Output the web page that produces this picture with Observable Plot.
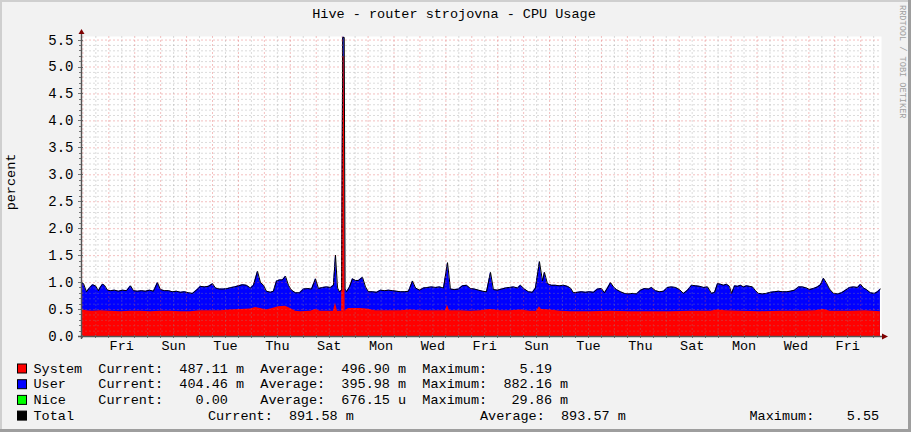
<!DOCTYPE html>
<html><head><meta charset="utf-8">
<script src="https://cdn.jsdelivr.net/npm/d3@7"></script>
<script src="https://cdn.jsdelivr.net/npm/@observablehq/plot@0.6"></script>
<style>
html,body{margin:0;padding:0;background:#F2F2F2;}
#chart{position:relative;width:911px;height:432px;overflow:hidden;}
#chart svg text{font-family:"Liberation Mono",monospace;}
</style></head><body><div id="chart"></div>
<script>
// time origin of the graph (UTC) and span in hours
const T0 = Date.UTC(2014, 0, 1, 22, 44);
const spanHours = 740.5;

// [hours from start, total CPU %]
const totalSeries = [[0,1.00],[1.9,0.98],[4.6,0.83],[7.4,0.90],[10.2,0.96],[13.0,0.94],[15.7,0.85],[17.6,0.92],[19.4,0.97],[21.3,0.95],[24.1,0.86],[26.8,0.85],[30.5,0.86],[34.2,0.84],[37.9,0.86],[41.7,0.85],[45.4,0.94],[48.1,0.85],[51.8,0.84],[55.5,0.85],[59.2,0.84],[62.9,0.86],[66.6,0.84],[70.3,1.00],[73.1,0.87],[76.8,0.85],[80.5,0.85],[84.2,0.83],[87.9,0.84],[91.6,0.82],[95.3,0.83],[99.1,0.81],[102.7,0.80],[106.4,0.86],[110.1,0.93],[113.8,0.92],[117.5,0.93],[121.3,0.98],[124.0,0.90],[127.7,0.88],[131.4,0.88],[135.1,0.89],[138.8,0.91],[141.6,0.92],[145.3,0.94],[149.0,0.96],[152.7,0.95],[156.4,0.90],[159.2,0.95],[162.9,1.21],[165.7,1.00],[168.5,0.95],[171.2,0.84],[174.9,0.82],[177.7,0.84],[180.5,1.03],[183.3,1.05],[186.0,1.05],[188.8,1.12],[191.6,0.95],[194.4,0.86],[198.1,0.81],[201.8,0.81],[205.5,0.88],[209.2,0.89],[212.9,0.88],[216.6,1.07],[219.4,0.89],[223.1,0.91],[226.8,0.92],[230.5,0.91],[233.2,0.95],[235.1,1.51],[237.0,0.90],[238.8,0.83],[240.8,0.86],[241.8,5.55],[243.2,5.55],[244.0,0.88],[245.3,0.83],[248.1,0.92],[250.8,1.07],[253.6,1.04],[256.4,1.04],[260.1,1.10],[262.9,0.92],[265.6,0.83],[269.3,0.83],[273.1,0.82],[276.8,0.86],[280.5,0.85],[284.2,0.86],[287.9,0.85],[291.6,0.84],[295.3,0.83],[299.0,0.83],[302.7,0.84],[306.4,1.03],[309.2,0.90],[312.9,0.86],[316.6,0.90],[320.3,0.91],[324.0,0.92],[327.7,0.91],[331.4,0.92],[335.1,0.90],[338.8,1.37],[341.5,0.88],[345.2,0.87],[348.9,0.88],[352.6,0.94],[356.4,0.95],[360.1,0.89],[363.8,0.88],[367.5,0.86],[371.2,0.84],[374.9,0.83],[378.6,1.19],[381.3,0.87],[385.0,0.86],[388.8,0.88],[392.5,0.90],[396.2,0.91],[399.9,0.92],[403.6,0.90],[406.3,0.95],[410.0,0.88],[413.7,0.83],[417.4,0.82],[420.2,0.90],[423.9,1.39],[426.7,1.03],[428.5,1.19],[431.3,0.98],[435.0,0.95],[438.7,0.95],[442.4,0.94],[446.1,0.95],[449.8,0.93],[452.6,0.90],[455.4,0.81],[459.1,0.82],[462.8,0.83],[466.5,0.82],[470.2,0.83],[473.9,0.82],[477.6,0.88],[481.3,0.89],[484.1,0.81],[486.9,0.90],[489.7,1.00],[492.4,0.92],[495.2,0.87],[498.9,0.83],[502.6,0.80],[506.3,0.79],[510.0,0.80],[513.7,0.79],[517.5,0.86],[521.2,0.89],[524.9,0.88],[527.6,0.91],[531.3,0.85],[535.0,0.83],[538.7,0.84],[542.4,0.91],[546.1,0.92],[549.8,0.91],[553.5,0.87],[557.2,0.80],[561.0,0.86],[564.7,0.95],[568.4,0.94],[572.1,0.93],[575.8,0.91],[579.5,0.92],[583.2,0.80],[586.0,0.82],[588.7,0.98],[591.5,0.97],[594.3,0.95],[597.0,0.97],[599.8,0.93],[601.7,0.80],[604.5,0.94],[607.3,0.93],[610.0,0.95],[612.8,0.92],[615.5,0.94],[618.3,0.93],[621.1,0.92],[623.9,0.85],[626.6,0.80],[630.3,0.79],[634.0,0.80],[637.7,0.82],[641.4,0.83],[645.1,0.84],[648.8,0.83],[652.5,0.83],[656.2,0.84],[660.0,0.86],[663.7,0.92],[667.4,0.92],[671.1,0.90],[673.8,0.87],[677.5,0.89],[681.2,0.92],[684.0,0.96],[686.8,1.08],[689.6,0.99],[692.4,0.88],[696.0,0.80],[699.8,0.79],[703.5,0.81],[707.2,0.86],[710.9,0.91],[714.6,0.92],[718.3,0.91],[721.1,0.97],[723.8,0.90],[726.6,0.87],[730.3,0.81],[734.0,0.80],[736.8,0.83],[739.5,0.88]];

// [hours from start, system CPU %]
const systemSeries = [[0,0.50],[4.6,0.48],[10.2,0.47],[17.6,0.48],[26.8,0.47],[36.1,0.46],[45.4,0.47],[54.6,0.47],[63.9,0.46],[73.1,0.47],[82.4,0.47],[91.6,0.46],[100.9,0.46],[110.1,0.48],[119.4,0.48],[128.7,0.48],[137.9,0.49],[147.2,0.50],[156.4,0.51],[161.1,0.54],[165.7,0.52],[171.2,0.49],[176.8,0.52],[182.3,0.55],[188.8,0.56],[193.4,0.52],[198.1,0.47],[202.7,0.46],[212.0,0.47],[216.6,0.50],[221.2,0.47],[230.5,0.47],[233.2,0.47],[235.1,0.62],[237.0,0.47],[240.8,0.47],[241.8,5.19],[243.2,5.19],[244.0,0.47],[247.1,0.52],[258.2,0.52],[263.8,0.51],[272.1,0.48],[286.0,0.48],[295.3,0.48],[304.5,0.49],[313.8,0.48],[323.0,0.48],[332.3,0.48],[336.9,0.48],[338.8,0.58],[340.6,0.48],[350.8,0.48],[360.1,0.47],[369.3,0.48],[378.6,0.50],[387.8,0.48],[397.1,0.48],[406.3,0.49],[415.6,0.47],[421.1,0.47],[423.9,0.55],[425.7,0.50],[434.1,0.49],[443.4,0.47],[452.6,0.46],[471.1,0.46],[489.7,0.47],[508.2,0.46],[526.7,0.46],[545.2,0.46],[563.7,0.47],[582.2,0.47],[588.7,0.49],[596.1,0.48],[610.0,0.47],[628.5,0.46],[647.0,0.47],[665.5,0.47],[679.4,0.48],[686.8,0.50],[693.3,0.47],[711.8,0.47],[725.7,0.48],[739.5,0.46]];

const dayLabels = ["Fri","Sun","Tue","Thu","Sat","Mon","Wed","Fri","Sun","Tue","Thu","Sat","Mon","Wed","Fri"];
const yTickValues = [0,0.5,1,1.5,2,2.5,3,3.5,4,4.5,5,5.5];
const yMax = 5.566;

const titleText = "Hive - router strojovna - CPU Usage";
const yLabelText = "percent";
const watermark = "RRDTOOL / TOBI OETIKER";

const legendNames = ["System","User","Nice","Total"];
const legendColors = ["#FF0000","#0000FF","#00FF00","#000000"];
const currentNum = ["487.11","404.46","0.00","891.58"];
const currentUnit = ["m","m"," ","m"];
const averageNum = ["496.90","395.98","676.15","893.57"];
const averageUnit = ["m","m","u","m"];
const maximumNum = ["5.19","882.16","29.86","5.55"];
const maximumUnit = [" ","m","m"," "];

const HOUR = 3600e3;
const toDate = h => new Date(T0 + h * HOUR);
const total = totalSeries.map(([h, v]) => ({t: toDate(h), v}));
const system = systemSeries.map(([h, v]) => ({t: toDate(h), v}));
const xStart = toDate(0), xEnd = toDate(spanHours);

const midnights = d3.utcDay.range(xStart, xEnd);
const noons = midnights.map(d => new Date(+d + 12 * HOUR)).filter(d => d < xEnd);
const labelTicks = dayLabels.map((_, i) => new Date(Date.UTC(2014, 0, 3 + 2 * i, 12)));
const labelMap = new Map(labelTicks.map((d, i) => [+d, dayLabels[i]]));
const yMinor = d3.range(1, 56).map(i => i / 10).filter(v => Math.round(v * 10) % 5 !== 0);
const yMajorGrid = yTickValues.filter(v => v > 0);

const gridMinor = {stroke: "rgb(143,143,143)", strokeOpacity: 0.32, strokeDasharray: "2,2"};
const gridMajor = {stroke: "rgb(222,79,79)", strokeOpacity: 0.36, strokeDasharray: "2,2"};

const chart = Plot.plot({
  width: 911, height: 432,
  marginLeft: 81, marginRight: 30, marginTop: 36, marginBottom: 96,
  style: {background: "transparent", fontFamily: "Liberation Mono, monospace", fontSize: "13.5px", color: "#000", overflow: "visible"},
  x: {type: "utc", domain: [xStart, xEnd], label: null},
  y: {domain: [0, yMax], label: null},
  marks: [
    Plot.frame({fill: "white", stroke: "none"}),
    Plot.areaY(total, {x: "t", y: "v", fill: "#0000FF"}),
    Plot.areaY(system, {x: "t", y: "v", fill: "#FF0000"}),
    Plot.lineY(total, {x: "t", y: "v", stroke: "#000000", strokeWidth: 1}),
    Plot.ruleY(yMinor, gridMinor),
    Plot.ruleX(noons, gridMinor),
    Plot.ruleY(yMajorGrid, gridMajor),
    Plot.ruleX(midnights, gridMajor),
    Plot.axisY({ticks: yTickValues, tickFormat: d3.format(".1f"), tickSize: 0, tickPadding: 8, fontSize: 14}),
    Plot.axisX({ticks: labelTicks, tickFormat: d => labelMap.get(+d), tickSize: 0, tickPadding: 4, fontSize: 13.5})
  ]
});
document.getElementById("chart").appendChild(chart);

const svg = d3.select(chart);
const xs = chart.scale("x"), ys = chart.scale("y");
const x0 = xs.apply(xStart), x1 = xs.apply(xEnd);
const y0 = ys.apply(0), yTop = ys.apply(yMax);

// frame shading
svg.append("rect").attr("x", 0).attr("y", 0).attr("width", 911).attr("height", 2).attr("fill", "#CFCFCF");
svg.append("rect").attr("x", 0).attr("y", 0).attr("width", 2).attr("height", 432).attr("fill", "#CFCFCF");
svg.append("rect").attr("x", 0).attr("y", 429).attr("width", 911).attr("height", 3).attr("fill", "#9E9E9E");
svg.append("rect").attr("x", 908).attr("y", 0).attr("width", 3).attr("height", 432).attr("fill", "#9E9E9E");

// minor axis ticks
const tg = svg.append("g").attr("stroke", "#777").attr("stroke-width", 1);
d3.range(1, 56).map(i => i / 10).forEach(v => {
  const yy = Math.round(ys.apply(v)) + 0.5;
  const major = Math.round(v * 10) % 5 === 0;
  tg.append("line").attr("x1", x0 - (major ? 3 : 2)).attr("x2", x0 + (major ? 2 : 1)).attr("y1", yy).attr("y2", yy);
});
[...midnights, ...noons].forEach(d => {
  const xx = Math.round(xs.apply(d)) + 0.5;
  tg.append("line").attr("x1", xx).attr("x2", xx).attr("y1", y0 - 1).attr("y2", y0 + 2);
});

// axes with arrows
svg.append("line").attr("x1", x0 + 0.5).attr("x2", x0 + 0.5).attr("y1", y0 + 3).attr("y2", yTop - 4)
  .attr("stroke", "#555").attr("stroke-width", 1.4);
svg.append("line").attr("x1", x0 - 3).attr("x2", x1 + 3).attr("y1", y0 + 0.5).attr("y2", y0 + 0.5)
  .attr("stroke", "#555").attr("stroke-width", 1.4);
svg.append("path").attr("d", `M${x0 - 2.5},${yTop - 2}L${x0 + 3.5},${yTop - 2}L${x0 + 0.5},${yTop - 7}Z`).attr("fill", "#7F0000");
svg.append("path").attr("d", `M${x1 + 1},${y0 - 2.5}L${x1 + 1},${y0 + 3.5}L${x1 + 7},${y0 + 0.5}Z`).attr("fill", "#7F0000");

// title, y label, watermark
svg.append("text").attr("x", 454).attr("y", 17.5).attr("text-anchor", "middle")
  .attr("font-size", 13.5).attr("fill", "#000").text(titleText);
svg.append("text").attr("transform", `translate(15,182) rotate(-90)`).attr("text-anchor", "middle")
  .attr("font-size", 13.5).attr("fill", "#000").text(yLabelText);
svg.append("text").attr("transform", `translate(900,5) rotate(90)`).attr("text-anchor", "start")
  .attr("font-size", 8.6).attr("fill", "#A0A0A0").text(watermark);

// legend
const baselines = [372.5, 388.2, 403.9, 419.6];
const lg = svg.append("g").attr("font-size", 13.5).attr("fill", "#000").attr("text-anchor", "start");
legendNames.forEach((name, i) => {
  const by = baselines[i];
  lg.append("rect").attr("x", 17.5).attr("y", by - 8.5).attr("width", 9).attr("height", 9)
    .attr("fill", legendColors[i]).attr("stroke", "#000").attr("stroke-width", 1);
  const cur = "Current:" + currentNum[i].padStart(8) + " " + currentUnit[i];
  const avg = "Average:" + averageNum[i].padStart(8) + " " + averageUnit[i];
  const max = "Maximum:" + maximumNum[i].padStart(8) + " " + maximumUnit[i];
  const addText = (x, s) => lg.append("text").attr("x", x).attr("y", by).attr("text-anchor", "start")
    .attr("xml:space", "preserve").style("white-space", "pre").text(s);
  if (i < 3) {
    addText(33.5, name.padEnd(8) + cur + "  " + avg + "  " + max);
  } else {
    addText(33.5, name);
    addText(208, cur);
    addText(480, avg);
    addText(749.5, max);
  }
});
</script></body></html>
